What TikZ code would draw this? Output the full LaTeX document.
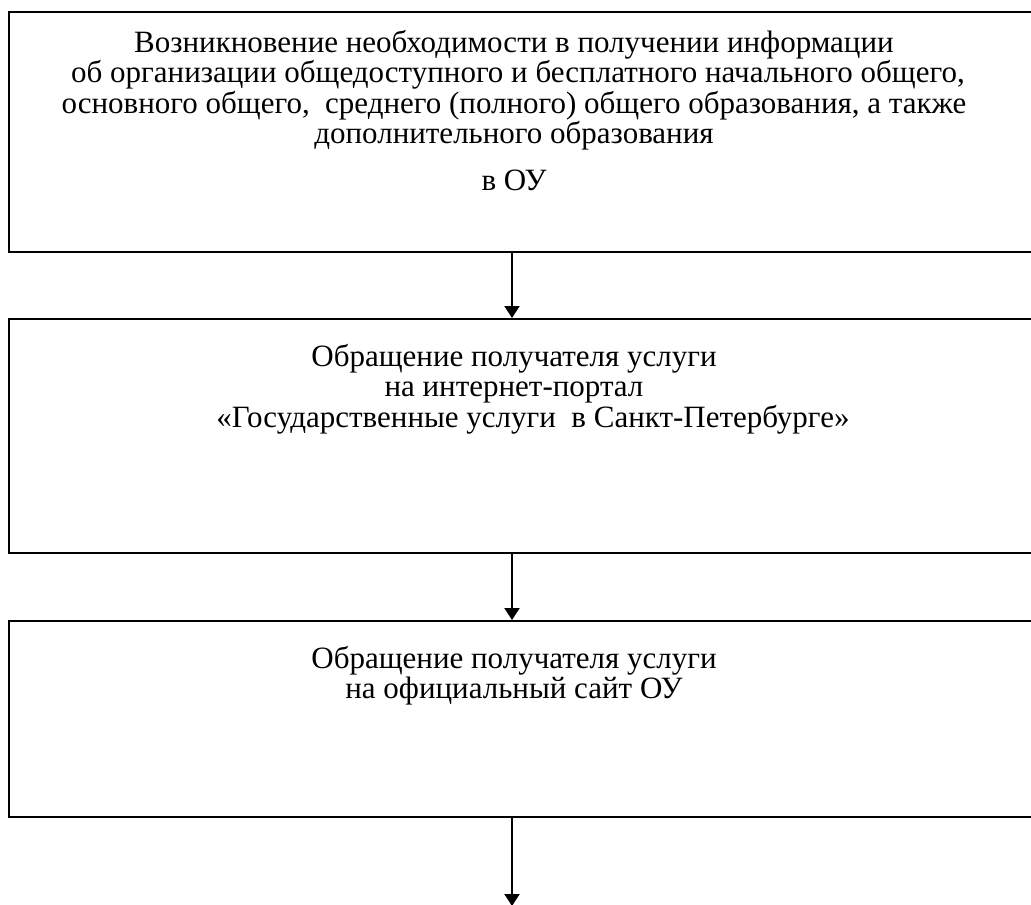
\documentclass[tikz,border=0pt]{standalone}
\usepackage{fontspec}
\setmainfont{Liberation Serif}
\usetikzlibrary{positioning}
\usetikzlibrary{arrows.meta}

\tikzset{
	stepbox/.style = {draw, line width = 2pt, rectangle, anchor = north west, minimum width = 1032pt, inner sep = 0pt},
	boxtext/.style = {align = center, anchor = north, inner sep = 0pt, font = \fontsize{31}{30.5}\selectfont},
	flow/.style = {line width = 2pt, -{Triangle[width = 15pt, length = 12pt]}}
}

\begin{document}
\begin{tikzpicture}[x = 1pt, y = -1pt]
		\useasboundingbox (0,0) rectangle (1031,905);
		% boxes
		\node[stepbox, minimum height = 240pt] at (8,11) (b1) {};
		\node[stepbox, minimum height = 234pt] at (8,318) (b2) {};
		\node[stepbox, minimum height = 196pt] at (8,620) (b3) {};
		% texts
		\node[boxtext] at (514,30) (t1) {Возникновение необходимости в получении информации\\ \hspace*{8pt}об организации общедоступного и бесплатного начального общего,\\ основного общего,\ \ среднего (полного) общего образования, а также\\ дополнительного образования\\[16pt] в ОУ};
		\node[boxtext] at (514,344) (t2) {Обращение получателя услуги\\ на интернет-портал\\ \hspace*{38pt}«Государственные услуги\ \ в Санкт-Петербурге»};
		\node[boxtext] at (514,646) (t3) {Обращение получателя услуги\\ на официальный сайт ОУ};
		% arrows
		\coordinate (ax) at (512,0);
		\coordinate (end) at (512,906);
		\draw[flow] (b1.south -| ax) -- (b2.north -| ax);
		\draw[flow] (b2.south -| ax) -- (b3.north -| ax);
		\draw[flow] (b3.south -| ax) -- (end);
	\end{tikzpicture}
\end{document}
